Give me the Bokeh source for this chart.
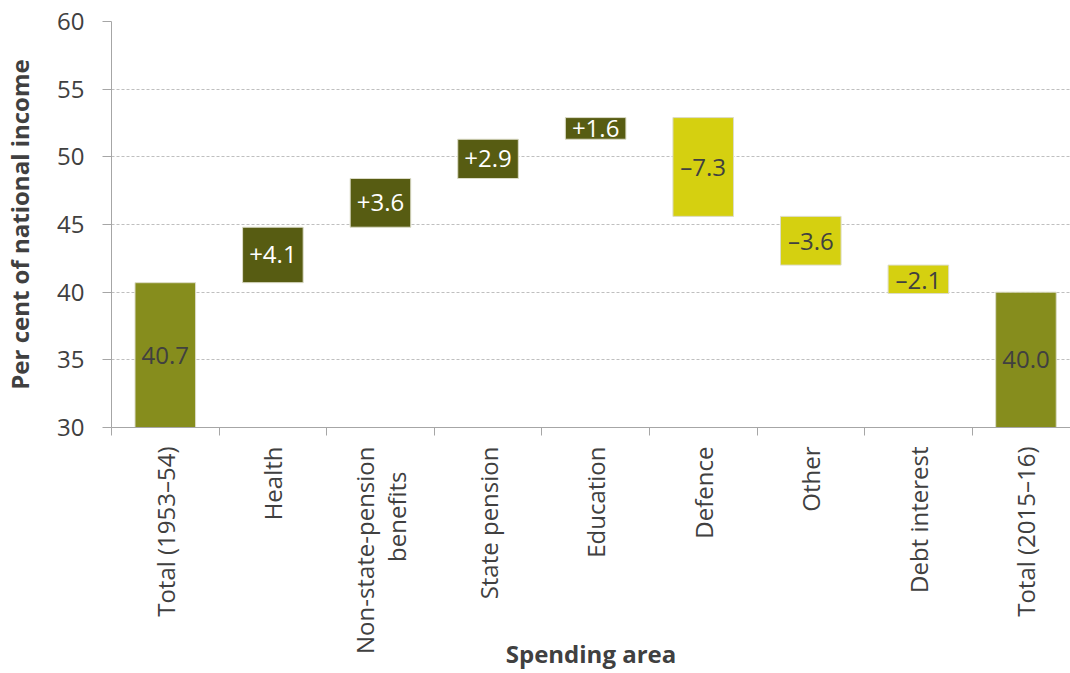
import math
from bokeh.plotting import figure
from bokeh.models import Range1d, FixedTicker, ColumnDataSource
from bokeh.embed import file_html
from bokeh.resources import INLINE
from bokeh.core.properties import value

# ---- data ----
categories = ["Total (1953–54)", "Health", "Non-state-pension\nbenefits", "State pension",
              "Education", "Defence", "Other", "Debt interest", "Total (2015–16)"]
changes = [40.7, 4.1, 3.6, 2.9, 1.6, -7.3, -3.6, -2.1, 40.0]
kinds = ["total", "up", "up", "up", "up", "down", "down", "down", "total"]
y_ticks = [30, 35, 40, 45, 50, 55, 60]

Y0, Y1 = 30, 60
FONT = "Open Sans"
FS = "24px"
TXT = "#404040"
fill_map = {"total": "#868D1D", "up": "#575C12", "down": "#D5D010"}
text_color_map = {"total": TXT, "up": "#FFFFFF", "down": TXT}

xs, bottoms, tops, fills, labels, label_y, label_colors = [], [], [], [], [], [], []
running = 0.0
for i, (v, k) in enumerate(zip(changes, kinds)):
    if k == "total":
        b, t = Y0, v
        running = v
        lab = f"{v:.1f}"
    else:
        b, t = running, running + v
        running = t
        lab = ("+" if v > 0 else "–") + f"{abs(v):.1f}"
    xs.append(i + 0.5)
    bottoms.append(b)
    tops.append(t)
    fills.append(fill_map[k])
    labels.append(lab)
    label_y.append((b + t) / 2)
    label_colors.append(text_color_map[k])

src = ColumnDataSource(dict(x=xs, bottom=bottoms, top=tops, fill=fills,
                            label=labels, ly=label_y, lc=label_colors))

p = figure(width=1070, height=673, output_backend="svg", toolbar_location=None,
           x_range=Range1d(0, 8.914), y_range=Range1d(Y0, Y1),
           min_border_left=110, min_border_right=0, min_border_top=21, min_border_bottom=246)
p.outline_line_color = None
p.background_fill_color = "white"
p.border_fill_color = "white"

p.vbar(x="x", bottom="bottom", top="top", width=0.563, fill_color="fill",
       line_color="#DCDCC8", line_width=1, source=src)
p.text(x="x", y="ly", text="label", text_color="lc", text_align="center",
       text_baseline="middle", text_font=value(FONT), text_font_size=FS, source=src)

# grids
p.xgrid.visible = False
p.ygrid.ticker = FixedTicker(ticks=y_ticks[1:])
p.ygrid.grid_line_color = "#BFBFBF"
p.ygrid.grid_line_dash = "3 2"
p.ygrid.grid_line_width = 1

AX = "#A6A6A6"
# y axis
ya = p.yaxis[0]
ya.ticker = FixedTicker(ticks=y_ticks)
ya.axis_line_color = AX
ya.major_tick_line_color = AX
ya.major_tick_out = 9
ya.major_tick_in = 0
ya.minor_tick_line_color = None
ya.major_label_text_font = FONT
ya.major_label_text_font_size = FS
ya.major_label_text_color = TXT
ya.major_label_standoff = 18
ya.axis_label = "Per cent of national income"
ya.axis_label_text_font = FONT
ya.axis_label_text_font_style = "bold"
ya.axis_label_text_font_size = FS
ya.axis_label_text_color = TXT
ya.axis_label_standoff = 18

# x axis: category names at category centres; a two-line name is split into two
# neighbouring ticks, with the shorter line pushed down so both lines are centred
LINE_SHIFT = 0.1486          # half the line spacing, in category widths
NBSP = "\u00a0"
label_ticks, overrides = [], {}
for i, c in enumerate(categories):
    lines = c.split("\n")
    n = len(lines)
    longest = max(len(s) for s in lines)
    for j, line in enumerate(lines):
        t = i + 0.5 + (j - (n - 1) / 2) * 2 * LINE_SHIFT
        pad = int(round((longest - len(line)) * 0.5 * 0.95)) if n > 1 else 0
        label_ticks.append(t)
        overrides[t] = line + NBSP * pad

xa = p.xaxis[0]
xa.ticker = FixedTicker(ticks=label_ticks, minor_ticks=list(range(len(categories) + 1)))
xa.major_label_overrides = overrides
xa.axis_line_color = AX
xa.major_tick_line_color = None
xa.major_tick_out = 0
xa.major_tick_in = 0
xa.minor_tick_line_color = AX
xa.minor_tick_out = 8
xa.minor_tick_in = 0
xa.major_label_orientation = math.pi / 2
xa.major_label_text_font = FONT
xa.major_label_text_font_size = FS
xa.major_label_text_color = TXT
xa.major_label_standoff = 11
xa.axis_label = "Spending area"
xa.axis_label_text_font = FONT
xa.axis_label_text_font_style = "bold"
xa.axis_label_text_font_size = FS
xa.axis_label_text_color = TXT
xa.axis_label_standoff = -20

open("out.html", "w").write(file_html(p, INLINE))
